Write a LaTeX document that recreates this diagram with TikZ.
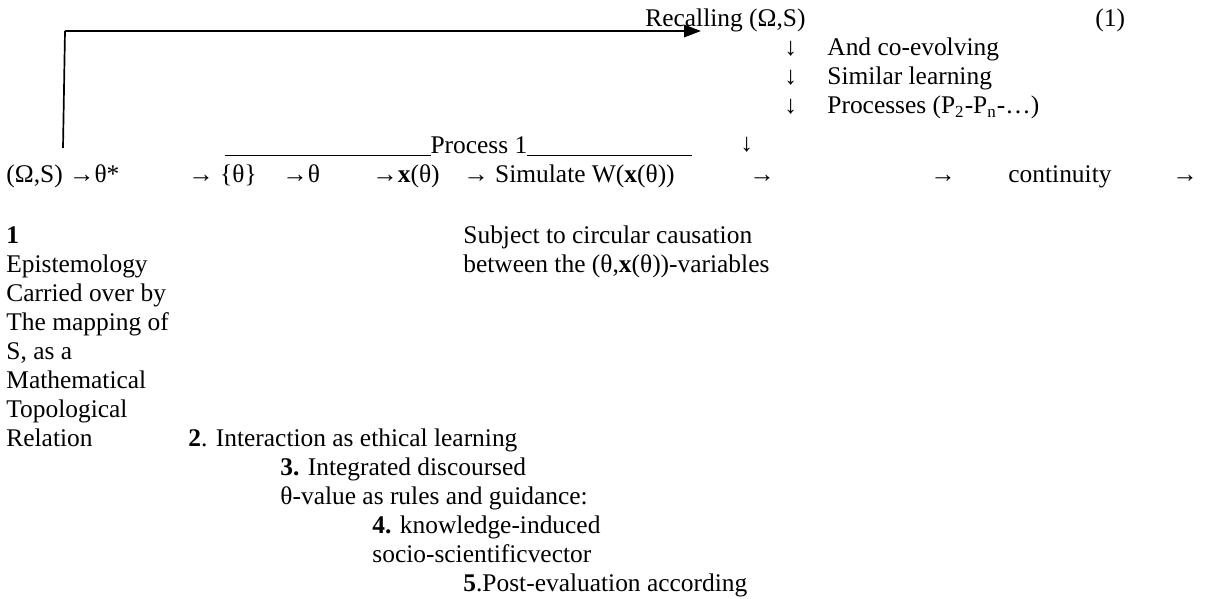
\documentclass[tikz,border=0pt]{standalone}
\usepackage{fontspec}
\setmainfont{Liberation Serif}
\usetikzlibrary{arrows.meta}

\tikzset{
  txt/.style={anchor=base west, inner sep=0pt, font=\fontsize{12}{14}\selectfont},
  bigarrow/.style={line width=1.1pt, -{Triangle[length=8pt,width=5.8pt]}},
}
\newcommand{\xb}{\textbf{x}}
\newcommand{\procline}[1]{\rule[-1pt]{#1}{0.5pt}}

\begin{document}
\begin{tikzpicture}[x=0.472pt,y=-0.472pt]
  \useasboundingbox (0,0) rectangle (1206,599);

  % arriba
  \node[txt] (recall) at (645,27) {Recalling (Ω,S)};
  \node[txt] (eqno) at (1095,27) {(1)};
  \node[txt] (dA) at (784,56) {↓};
  \node[txt] (coevo) at (827,56) {And co-evolving};
  \node[txt] (dB) at (784,85) {↓};
  \node[txt] (similar) at (827,85) {Similar learning};
  \node[txt] (dC) at (784,114) {↓};
  \node[txt] (procs) at (827,114) {Processes (P\textsubscript{2}-P\textsubscript{n}-…)};
  \node[txt] (dD) at (740,152) {↓};
  \node[txt] (proc1) at (225,154) {\procline{96.8pt}Process 1\procline{77.9pt}};

  % fila principal
  \node[txt] (omega) at (6,183) {(Ω,S) →θ*};
  \node[txt] (set) at (188,183) {→ \{θ\}};
  \node[txt] (theta) at (282,183) {→θ};
  \node[txt] (xtheta) at (372,183) {→\xb(θ)};
  \node[txt] (sim) at (463,183) {→ Simulate W(\xb(θ))};
  \node[txt] (arA) at (749,183) {→};
  \node[txt] (arB) at (930,183) {→};
  \node[txt] (cont) at (1008,183) {continuity};
  \node[txt] (arC) at (1172,183) {→};

  \node[txt] (subj) at (463,244) {Subject to circular causation};
  \node[txt] (betw) at (463,273) {between the (θ,\xb(θ))-variables};

  % columna izquierda
  \node[txt] (one) at (6,244) {\textbf{1}};
  \node[txt] (epis) at (6,273) {Epistemology};
  \node[txt] (carr) at (6,302) {Carried over by};
  \node[txt] (mapp) at (6,331) {The mapping of};
  \node[txt] (sasa) at (6,360) {S, as a};
  \node[txt] (math) at (6,389) {Mathematical};
  \node[txt] (topo) at (6,418) {Topological};
  \node[txt] (rela) at (6,447) {Relation};

  % escalera
  \node[txt] (two) at (188,447) {\textbf{2}. Interaction as ethical learning};
  \node[txt] (three) at (280,476) {\textbf{3.} Integrated discoursed};
  \node[txt] (thval) at (280,505) {θ-value as rules and guidance:};
  \node[txt] (four) at (372,534) {\textbf{4.} knowledge-induced};
  \node[txt] (socio) at (372,563) {socio-scientificvector};
  \node[txt] (five) at (463,592) {\textbf{5}.Post-evaluation according};

  % flecha de vuelta
  \coordinate (loopS) at (63,148);
  \coordinate (loopC) at (65,31);
  \coordinate (loopE) at (701,31);
  \draw[line width=0.8pt] (loopS) -- (loopC);
  \draw[bigarrow] (loopC) -- (loopE);
\end{tikzpicture}
\end{document}
